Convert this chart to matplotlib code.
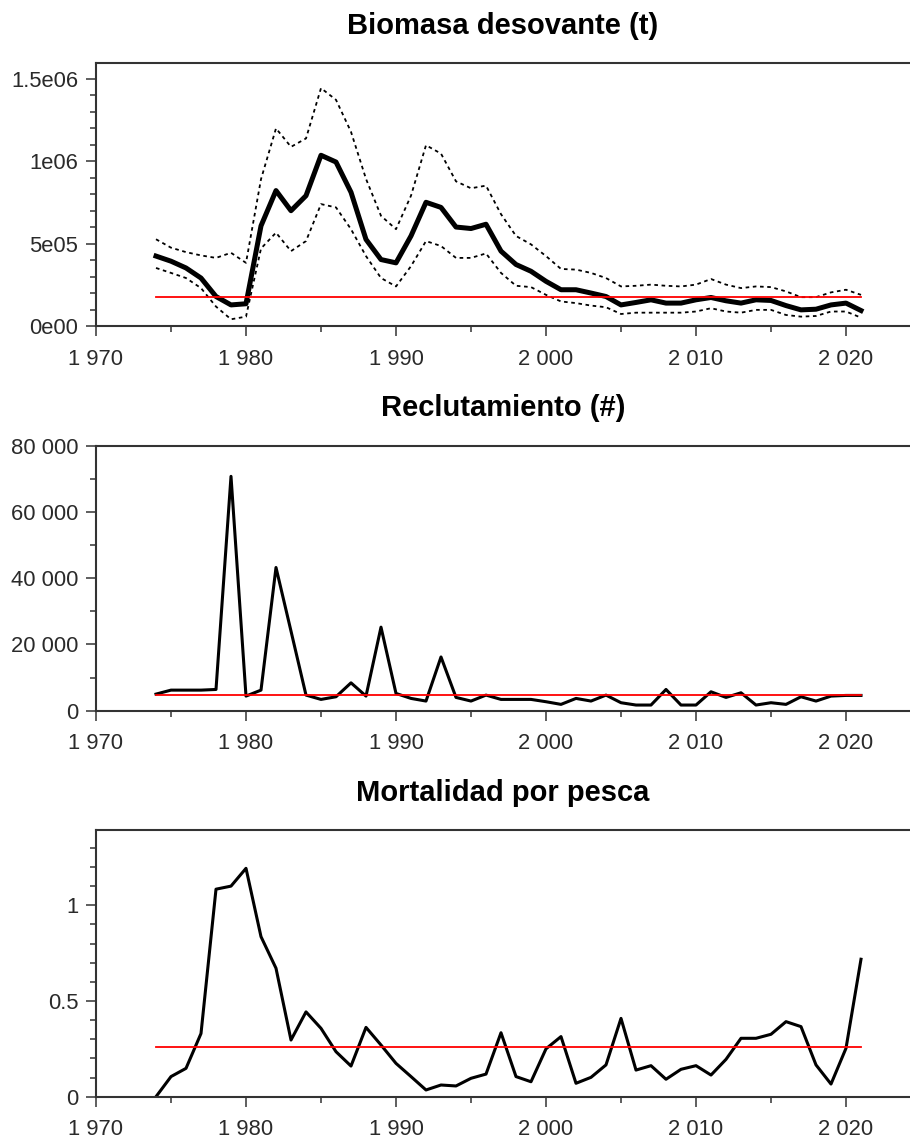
import matplotlib
matplotlib.use('Agg')
import matplotlib.pyplot as plt
import matplotlib.ticker as mticker
import numpy as np

# Series anuales 1974-2021
anios = np.arange(1974, 2022)

biomasa = [424, 393, 352, 291, 179, 128, 135, 607, 821, 699, 790, 1035, 994, 811,
           525, 403, 383, 546, 750, 719, 600, 591, 617, 454, 373, 332, 271, 220,
           220, 200, 179, 128, 143, 159, 139, 139, 159, 173, 153, 139, 159, 155,
           124, 98, 102, 128, 139, 94]
biomasa_sup = [526, 475, 448, 428, 413, 444, 383, 890, 1198, 1086, 1137, 1442, 1371, 1177,
               892, 668, 587, 790, 1096, 1045, 877, 835, 851, 678, 546, 495, 424, 346,
               342, 322, 291, 240, 244, 251, 244, 240, 251, 285, 251, 230, 240, 236,
               210, 175, 175, 204, 220, 189]
biomasa_inf = [352, 322, 291, 230, 118, 41, 57, 470, 566, 454, 515, 739, 719, 587,
               424, 291, 240, 363, 515, 485, 413, 413, 440, 322, 244, 236, 189, 149,
               139, 124, 114, 73, 81, 81, 81, 81, 88, 108, 88, 81, 98, 98,
               67, 57, 61, 88, 88, 51]
biomasa_ref = 173  # miles de t

reclutamiento = [5000, 6200, 6200, 6200, 6400, 70700, 4400, 6200, 43200, 24000, 4700, 3400,
                 4200, 8400, 4400, 25200, 5200, 3700, 2900, 16200, 4000, 2900, 4700, 3400,
                 3400, 3400, 2700, 1900, 3700, 2900, 4700, 2400, 1700, 1700, 6400, 1700,
                 1700, 5700, 4000, 5400, 1700, 2400, 1900, 4200, 2900, 4400, 4600, 4600]
reclutamiento_ref = 4700

mortalidad = [0.0, 0.105, 0.148, 0.33, 1.084, 1.10, 1.193, 0.836, 0.671, 0.296, 0.443, 0.357,
              0.235, 0.160, 0.362, 0.270, 0.174, 0.105, 0.035, 0.061, 0.056, 0.096, 0.118, 0.334,
              0.105, 0.078, 0.25, 0.314, 0.070, 0.101, 0.166, 0.409, 0.139, 0.162, 0.091, 0.143,
              0.162, 0.113, 0.195, 0.305, 0.305, 0.326, 0.392, 0.366, 0.166, 0.066, 0.253, 0.718]
mortalidad_ref = 0.261

titulos = ['Biomasa desovante (t)', 'Reclutamiento (#)', 'Mortalidad por pesca']

plt.rcParams['font.family'] = ['Liberation Sans', 'DejaVu Sans']

fig = plt.figure(figsize=(9.1, 11.4), dpi=100)
# posiciones de los paneles en fracción de figura
ejes = [fig.add_axes([96 / 910, 0.7140, 1 - 96 / 910, 0.2307]),
        fig.add_axes([96 / 910, 0.3766, 1 - 96 / 910, 0.2326]),
        fig.add_axes([96 / 910, 0.0380, 1 - 96 / 910, 0.2339])]

gris = '#333333'


def miles(v, pos=None):
    return f'{int(round(v)):,}'.replace(',', ' ')


def cientifico(v, pos=None):
    if v == 0:
        return '0e00'
    exp = int(np.floor(np.log10(abs(v))))
    man = v / 10 ** exp
    return f'{man:g}e{exp:02d}'


for ax, titulo in zip(ejes, titulos):
    ax.set_xlim(1970, 1970 + 814 / 15)
    ax.set_title(titulo, fontsize=21, fontweight='bold', pad=21)
    ax.spines['right'].set_visible(False)
    for lado in ['top', 'left', 'bottom']:
        ax.spines[lado].set_color(gris)
        ax.spines[lado].set_linewidth(1.5)
    ax.xaxis.set_major_locator(mticker.MultipleLocator(10))
    ax.xaxis.set_minor_locator(mticker.MultipleLocator(5))
    ax.xaxis.set_major_formatter(mticker.FuncFormatter(miles))
    ax.tick_params(which='major', length=7.2, width=1.1, color=gris,
                   labelsize=15.8, labelcolor='#2a2a2a')
    ax.tick_params(which='minor', length=4.3, width=1.1, color=gris)
    ax.tick_params(axis='x', which='both', top=False, pad=9)
    ax.tick_params(axis='y', which='both', right=False, pad=5.5)

# Biomasa desovante
ax = ejes[0]
ax.plot(anios, np.array(biomasa_sup) * 1e3, color='black', lw=1.3, ls=(0, (2, 2)))
ax.plot(anios, np.array(biomasa_inf) * 1e3, color='black', lw=1.3, ls=(0, (2, 2)))
ax.plot(anios, np.array(biomasa) * 1e3, color='black', lw=3.6)
ax.plot([anios[0], anios[-1]], [biomasa_ref * 1e3] * 2, color='red', lw=1.3)
ax.set_ylim(0, 1.594e6)
ax.yaxis.set_major_locator(mticker.MultipleLocator(5e5))
ax.yaxis.set_minor_locator(mticker.MultipleLocator(1e5))
ax.yaxis.set_major_formatter(mticker.FuncFormatter(cientifico))

# Reclutamiento
ax = ejes[1]
ax.plot(anios, reclutamiento, color='black', lw=2.2)
ax.plot([anios[0], anios[-1]], [reclutamiento_ref] * 2, color='red', lw=1.3)
ax.set_ylim(0, 80000)
ax.yaxis.set_major_locator(mticker.MultipleLocator(20000))
ax.yaxis.set_minor_locator(mticker.MultipleLocator(10000))
ax.yaxis.set_major_formatter(mticker.FuncFormatter(miles))

# Mortalidad por pesca
ax = ejes[2]
ax.plot(anios, mortalidad, color='black', lw=2.2)
ax.plot([anios[0], anios[-1]], [mortalidad_ref] * 2, color='red', lw=1.3)
ax.set_ylim(0, 1.393)
ax.yaxis.set_major_locator(mticker.MultipleLocator(0.5))
ax.yaxis.set_minor_locator(mticker.MultipleLocator(0.1))
ax.yaxis.set_major_formatter(mticker.FuncFormatter(lambda v, p: f'{v:g}'))

fig.savefig('out.png', dpi=100)
